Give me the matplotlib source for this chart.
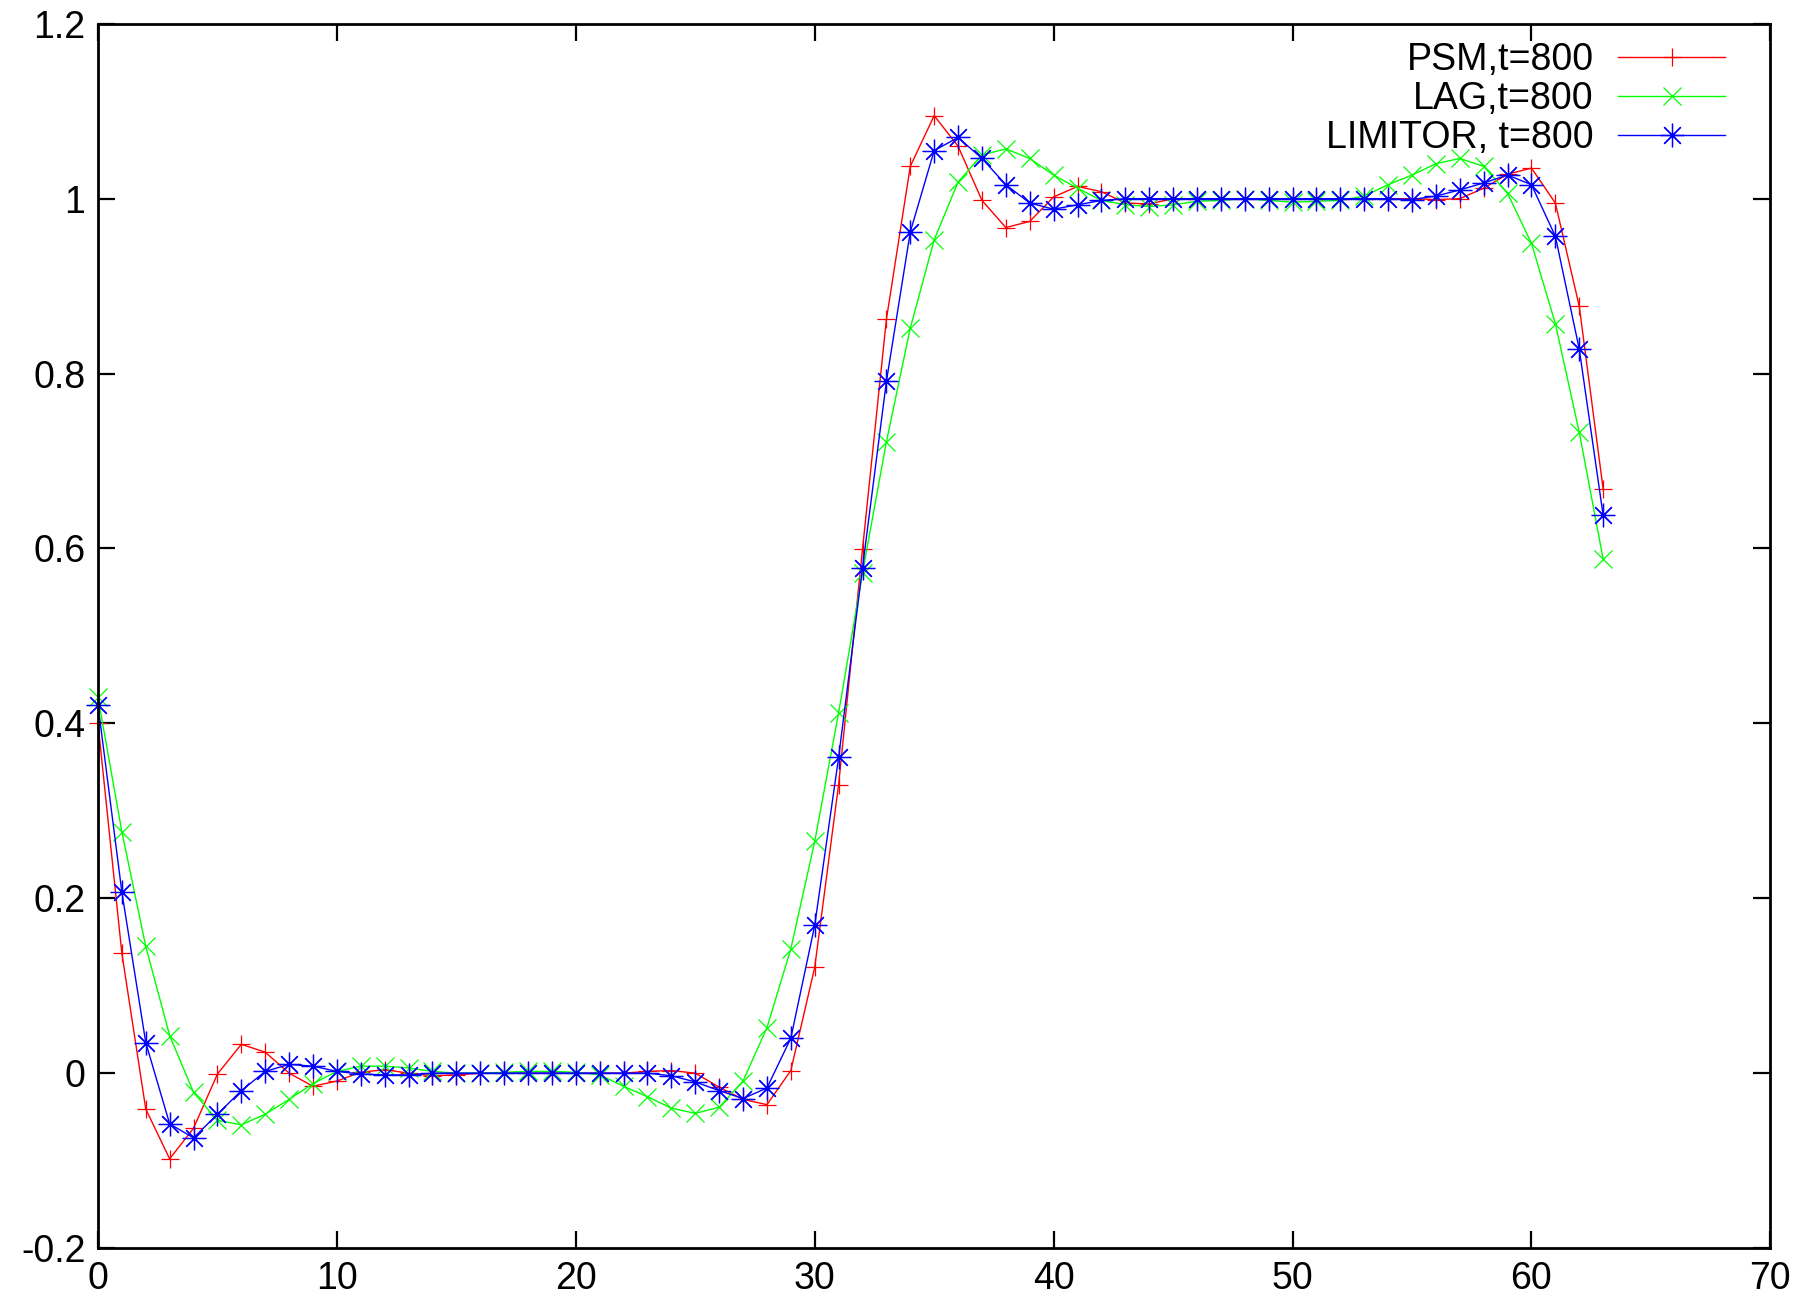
import numpy as np
import matplotlib
matplotlib.use("Agg")
import matplotlib.pyplot as plt
from matplotlib.ticker import FormatStrFormatter

plt.rcParams['font.family'] = ['Liberation Sans', 'DejaVu Sans']
plt.rcParams['axes.unicode_minus'] = False

x = np.arange(64)

psm = [0.400, 0.137, -0.041, -0.098, -0.063, -0.001, 0.033, 0.024, 0.000, -0.015,
       -0.009, 0.001, 0.004, 0.000, -0.003, -0.002, 0.000, 0.000, 0.000, 0.000,
       0.000, 0.000, 0.000, 0.002, 0.003, 0.000, -0.016, -0.030, -0.036, 0.003,
       0.121, 0.330, 0.599, 0.862, 1.037, 1.095, 1.060, 0.998, 0.967, 0.974,
       1.002, 1.014, 1.008, 0.995, 0.994, 1.000, 1.000, 1.000, 1.000, 1.000,
       1.000, 1.000, 1.000, 1.000, 1.000, 1.000, 0.999, 1.000, 1.012, 1.028,
       1.035, 0.995, 0.877, 0.668]

lag = [0.430, 0.276, 0.145, 0.043, -0.022, -0.054, -0.059, -0.047, -0.030, -0.012,
       0.002, 0.008, 0.008, 0.006, 0.002, 0.000, 0.000, 0.001, 0.002, 0.002,
       0.001, -0.002, -0.015, -0.027, -0.040, -0.046, -0.039, -0.009, 0.052, 0.142,
       0.265, 0.412, 0.572, 0.722, 0.852, 0.953, 1.019, 1.050, 1.057, 1.046,
       1.027, 1.012, 0.998, 0.993, 0.991, 0.993, 0.997, 0.998, 1.000, 0.998,
       0.996, 0.997, 0.998, 1.003, 1.016, 1.027, 1.040, 1.046, 1.037, 1.006,
       0.949, 0.857, 0.733, 0.588]

limitor = [0.421, 0.207, 0.035, -0.058, -0.074, -0.047, -0.020, 0.002, 0.010, 0.008,
           0.002, -0.001, -0.002, -0.002, 0.000, 0.000, 0.000, 0.000, 0.000, 0.000,
           0.000, 0.000, 0.000, 0.000, -0.003, -0.010, -0.020, -0.029, -0.017, 0.040,
           0.169, 0.361, 0.578, 0.791, 0.962, 1.055, 1.070, 1.046, 1.016, 0.995,
           0.988, 0.993, 0.998, 1.000, 1.000, 1.000, 1.000, 1.000, 1.000, 1.000,
           1.000, 1.000, 1.000, 1.000, 1.000, 0.999, 1.003, 1.010, 1.018, 1.027,
           1.016, 0.957, 0.828, 0.638]

labels = ["PSM,t=800", "LAG,t=800", "LIMITOR, t=800"]
colors = ["#ff0000", "#00ff00", "#0000ff"]
markers = ["+", "x", (8, 2, 0)]
msizes = [13, 13, 17]

fig = plt.figure(figsize=(18.01, 13.07), dpi=100)
ax = fig.add_axes([0.0544, 0.0451, 0.9286, 0.9367])

for y, lab, c, m, ms in zip([psm, lag, limitor], labels, colors, markers, msizes):
    ax.plot(x, y, color=c, lw=1.0, marker=m, markersize=ms, markeredgewidth=0.9,
            label=lab, clip_on=False)

ax.set_xlim(0, 70)
ax.set_ylim(-0.2, 1.2)
ax.set_xticks(np.arange(0, 71, 10))
ax.set_yticks(np.arange(-0.2, 1.21, 0.2))
ax.yaxis.set_major_formatter(FormatStrFormatter('%g'))
ax.tick_params(direction='in', length=12, width=1.6, labelsize=27,
               top=True, right=True, pad=9)
for s in ax.spines.values():
    s.set_linewidth(2)

ax.legend(loc='upper right', bbox_to_anchor=(0.973, 0.985), frameon=False,
          markerfirst=False, fontsize=27, handlelength=2.85, handletextpad=0.65,
          labelspacing=0.08, borderpad=0, borderaxespad=0, numpoints=1)

fig.savefig("out.png", dpi=100)
